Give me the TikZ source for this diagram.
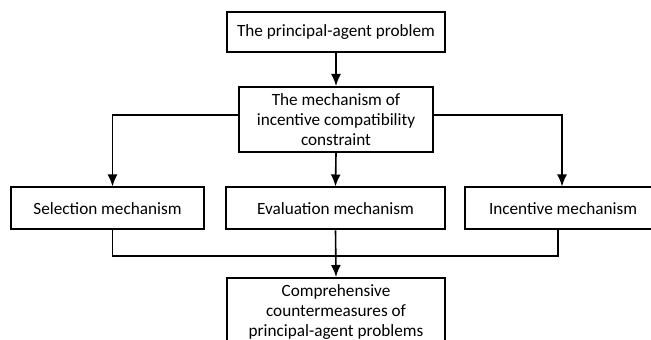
\documentclass[tikz,border=0pt]{standalone}
\usepackage{fontspec}
\setmainfont{Carlito}
\usepackage{tikz}
\usetikzlibrary{arrows.meta}

\tikzset{
  box/.style={draw, line width=1pt, align=center, inner sep=0pt,
    font=\fontsize{8.6}{10}\selectfont},
  arr/.style={line width=0.8pt, -{Latex[length=6pt,width=5pt]}},
  wire/.style={line width=0.8pt}
}

\begin{document}
\begin{tikzpicture}[x=0.5pt,y=0.5pt]
\useasboundingbox (0,0) rectangle (651,340);
\clip (0,0) rectangle (651,340);

\node[box, minimum width=109pt, minimum height=20pt] (prob) at (336,308) {The principal-agent problem};
\node[box, minimum width=97pt, minimum height=32.5pt] (mech) at (336,220.5) {The mechanism of\\incentive compatibility\\constraint};

\node[box, minimum width=96.5pt, minimum height=21pt] (sel) at (107.5,131.5) {Selection mechanism};
\node[box, minimum width=109.5pt, minimum height=21pt] (eva) at (335.5,131.5) {Evaluation mechanism};
\node[box, minimum width=98pt, minimum height=21pt] (inc) at (563,131.5) {Incentive mechanism};

\node[box, minimum width=109pt, minimum height=34pt] (com) at (336,28) {Comprehensive\\countermeasures of\\principal-agent problems};

\coordinate (bus) at (336,84);

\draw[arr] (prob.south) -- (mech.north);
\draw[arr] ([yshift=2.25pt]mech.west) -| ([xshift=2.5pt]sel.north);
\draw[arr] ([yshift=2.25pt]mech.east) -| ([xshift=-0.5pt]inc.north);
\draw[arr] (mech.south) -- (eva.north);

\draw[wire] ([xshift=2.5pt]sel.south) |- (bus) -| ([xshift=-2.5pt]inc.south);
\draw[arr] (eva.south) -- (com.north);
\end{tikzpicture}
\end{document}
